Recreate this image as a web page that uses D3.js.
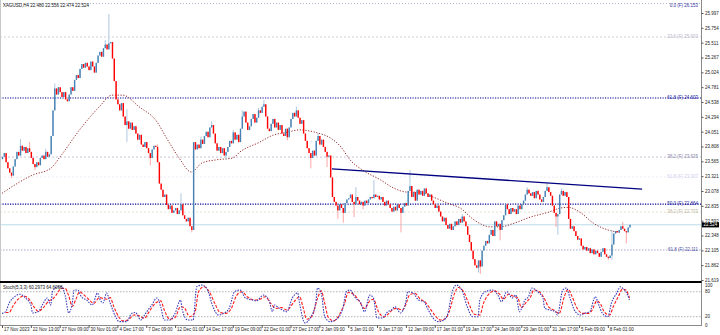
<!DOCTYPE html>
<html><head><meta charset="utf-8">
<script src="https://cdn.jsdelivr.net/npm/d3@7"></script>
<style>
html,body{margin:0;padding:0;background:#fff;}
svg{display:block;font-family:"Liberation Sans",Arial,sans-serif;}
</style></head><body>
<svg id="chart" width="720" height="335"></svg>
<script>
// XAGUSD H4 candles, 17 Nov 2023 .. 9 Feb 2024
const symbol = "XAGUSD,H4";
const firstOpen = 23.60;
const closes = [
23.64,23.70,23.55,23.45,23.38,23.33,23.48,23.60,23.72,23.66,23.82,23.74,23.80,23.70,23.78,23.72,
23.62,23.52,23.47,23.55,23.50,23.62,23.66,23.60,23.72,23.64,23.68,23.98,24.40,24.76,24.66,24.78,
24.70,24.62,24.70,24.58,24.55,24.66,24.78,24.72,24.90,24.98,24.93,25.08,25.16,25.10,25.18,25.12,
25.06,25.20,25.12,25.02,25.18,25.30,25.36,25.28,25.42,25.48,25.40,25.50,25.52,25.25,24.88,24.58,
24.50,24.40,24.52,24.30,24.16,24.22,24.10,24.20,24.08,24.14,24.02,23.92,24.00,23.84,23.80,23.88,
23.78,23.70,23.62,23.76,23.82,23.80,23.55,23.20,23.10,22.98,23.02,22.85,22.78,22.84,22.72,22.76,
22.80,22.70,22.76,22.86,22.68,22.62,22.58,22.64,22.50,22.44,23.88,23.76,23.84,23.78,23.92,23.85,
23.98,24.05,23.96,24.12,24.16,24.02,23.86,23.74,23.80,23.70,23.78,23.66,23.72,23.80,23.90,23.86,
24.04,23.92,24.00,23.88,24.10,24.30,24.38,24.20,24.08,24.14,24.26,24.34,24.20,24.28,24.40,24.36,
24.46,24.50,24.30,24.10,24.06,24.18,24.26,24.12,24.20,24.08,24.16,24.02,23.98,24.10,23.96,24.12,
24.26,24.36,24.30,24.40,24.28,24.18,24.24,24.02,23.90,23.78,23.70,23.62,23.74,23.66,23.90,23.98,
23.84,23.92,23.80,23.72,23.64,23.66,23.30,22.98,22.90,22.84,22.76,22.86,22.80,22.72,22.88,22.94,
22.96,23.02,22.90,22.86,22.98,22.92,22.86,22.90,22.84,22.92,22.88,22.94,22.98,22.96,23.02,22.98,
23.00,22.94,22.98,22.90,22.84,22.92,22.86,22.80,22.74,22.82,22.76,22.86,22.80,22.72,22.82,22.88,
22.84,23.08,23.16,22.98,23.06,22.92,23.10,23.02,23.08,23.00,23.12,23.04,22.98,23.02,22.92,22.86,
22.80,22.84,22.74,22.66,22.58,22.64,22.52,22.46,22.54,22.44,22.50,22.58,22.52,22.62,22.56,22.66,
22.58,22.50,22.36,22.24,22.10,21.96,21.86,21.82,21.94,21.84,22.10,22.18,22.26,22.22,22.36,22.44,
22.34,22.58,22.50,22.54,22.44,22.60,22.68,22.86,22.78,22.70,22.80,22.74,22.78,22.70,22.84,22.78,
22.86,22.92,23.02,23.10,23.04,23.00,23.06,22.96,23.08,23.02,22.94,22.90,22.98,23.08,23.14,23.06,
23.00,22.84,22.72,22.66,22.70,23.02,23.08,23.00,23.06,22.98,22.62,22.46,22.50,22.42,22.34,22.28,
22.30,22.18,22.12,22.16,22.10,22.14,22.06,22.12,22.04,22.10,22.06,22.00,22.08,22.14,22.04,22.00,
21.98,22.02,22.20,22.38,22.42,22.40,22.44,22.50,22.46,22.42,22.40,22.48,22.524
];
// wick extremes that reach beyond the candle bodies: [bar, price]
const highSpikes = [[10,23.93],[15,23.88],[24,23.77],[29,24.84],[57,25.55],[59,25.98],[69,24.42],
  [86,23.84],[99,23.04],[110,23.97],[116,24.22],[128,24.08],[133,24.40],[142,24.44],[145,24.57],
  [163,24.46],[175,24.03],[196,23.14],[206,23.26],[226,23.42],[255,22.70],[291,23.14],[302,23.21],
  [310,23.12],[338,22.44],[344,22.57]];
const lowSpikes = [[5,23.29],[18,23.42],[69,23.88],[82,23.50],[105,22.40],[124,23.59],[158,23.91],
  [171,23.45],[180,23.47],[186,22.62],[189,22.56],[195,22.65],[200,22.78],[221,22.40],[264,21.74],
  [265,21.72],[276,22.27],[307,22.49],[308,22.36],[336,21.95],[338,21.95],[346,22.22]];

// moving average (dotted)
const maIdx = [0,17,27,32,43,54,61,67,76,86,91,98,105,111,119,128,132,143,150,158,165,175,182,188,
  193,200,210,217,225,232,239,247,254,262,271,276,284,293,303,310,314,321,328,336,343];
const maVal = [23.04,23.34,23.45,23.63,24.08,24.46,24.65,24.65,24.46,24.21,23.96,23.63,23.39,23.54,
  23.59,23.62,23.72,23.88,23.99,24.04,24.08,24.03,23.95,23.80,23.59,23.42,23.26,23.13,23.06,23.06,
  22.98,22.88,22.80,22.60,22.49,22.49,22.55,22.65,22.73,22.80,22.81,22.72,22.55,22.44,22.40];

// descending trend line
const trendIdx = [183, 355];
const trendVal = [23.44, 23.11];

// fibonacci levels
const levelNames  = ["0.0","23.6","61.8","38.2","61.8","50.0","38.2","61.8"];
const levelPrices = [26.153,25.603,24.603,23.635,23.307,22.864,22.733,22.111];
const levelLine   = ["#b4b4cc","#d2d2da","#000090","#c8c0d8","#ececf6","#000090","#e4e0d0","#a8a8d0"];
const levelText   = ["#3030a0","#b8b8c8","#2020a0","#8888aa","#d0d0ee","#2828a0","#c0b8a0","#5050a0"];
const levelDash   = ["1,2","2,2","1.2,1.3","2,2","2,2","1.2,1.3","2,2","1.5,1.5"];

const bidPrice = 22.524;
const titleOHLC = [22.480, 22.556, 22.474, 22.524];

const priceTicks = [25.997,25.754,25.511,25.267,25.024,24.781,24.538,24.294,24.051,23.808,
  23.565,23.321,23.078,22.835,22.592,22.348,22.105,21.862,21.619];

const dateIdx = [0,16,32,48,64,80,96,112,128,144,160,176,192,208,224,240,256,272,288,304,320,336];
const dateLabels = ["17 Nov 2023","22 Nov 13:00","27 Nov 09:00","30 Nov 01:00","4 Dec 17:00",
  "7 Dec 09:00","12 Dec 01:00","14 Dec 17:00","19 Dec 09:00","22 Dec 01:00","27 Dec 17:00",
  "2 Jan 09:00","5 Jan 01:00","9 Jan 17:00","12 Jan 09:00","17 Jan 01:00","19 Jan 17:00",
  "24 Jan 09:00","29 Jan 01:00","31 Jan 17:00","5 Feb 09:00","8 Feb 01:00"];

// Stochastic(5,3,3)
const stochIdx = [0,2,4,7,10,13,16,17,20,23,25,27,28,31,33,35,37,39,40,42,44,47,50,53,54,56,58,60,
  63,65,69,72,74,77,79,83,86,88,90,93,96,99,100,103,106,108,111,114,117,120,123,126,129,132,135,
  139,141,145,148,150,151,154,158,161,164,165,168,171,174,175,177,179,182,185,189,191,193,196,199,
  201,204,206,208,211,214,216,218,221,224,225,228,231,234,236,239,242,245,247,250,252,255,258,261,
  264,265,268,272,275,277,280,283,285,287,290,292,294,297,300,301,304,307,308,311,313,315,318,321,
  323,326,329,331,333,336,338,341,343,344,347,348];
const stochMain = [28,32,53,68,74,65,48,29,32,53,65,48,80,92,92,72,29,53,84,84,68,60,48,77,65,53,
  77,53,20,8,8,28,30,12,24,48,65,44,12,12,28,60,36,12,12,92,96,84,44,24,28,40,80,84,65,60,58,72,
  60,32,48,40,32,65,77,53,5,17,53,89,77,20,8,12,40,80,84,65,53,32,72,65,17,17,32,36,44,29,56,80,
  77,60,56,40,17,8,12,24,84,96,84,44,20,20,60,80,84,72,56,80,65,72,32,60,68,89,80,65,40,36,32,24,
  84,89,65,32,24,28,32,68,48,28,20,53,77,92,89,72,60.2973];
const sigIdx = [2,4,6,9,12,15,18,20,23,26,28,30,33,35,37,39,41,43,45,48,51,54,56,58,60,62,65,67,70,
  73,76,79,81,85,88,90,93,96,99,101,104,107,109,112,115,118,121,124,127,130,133,136,140,143,146,
  149,152,155,158,162,165,167,169,172,175,177,179,181,184,187,190,192,195,198,201,204,206,209,212,
  215,217,219,222,224,226,229,232,235,237,240,243,246,248,251,253,256,259,262,265,267,270,273,276,
  278,281,284,286,288,291,293,295,298,301,303,306,309,312,314,316,319,322,325,327,330,332,334,337,
  339,342,344,346,348];
const sigVal = [30,30,45,62,70,62,42,33,42,58,62,72,88,88,70,45,62,80,74,62,52,66,64,62,66,44,18,10,
  12,24,22,16,28,52,58,36,14,18,44,42,20,30,80,92,80,52,30,28,38,70,80,68,60,62,68,52,40,42,36,56,
  68,42,14,22,64,82,52,18,10,24,52,78,74,58,40,58,62,30,20,30,38,40,36,50,72,76,62,54,42,24,12,16,
  32,76,90,80,50,26,24,52,74,82,74,62,74,68,66,42,56,66,84,80,62,44,36,28,70,86,70,40,28,28,34,58,
  50,32,24,44,70,86,84,64.6098];
const stochLevels = [80, 20];
const stochTicks = [100, 80, 20, 0];

// ---------------------------------------------------------------
const svg = d3.select("#chart");
const FS = 4.5;
const x = d3.scaleLinear().domain([0, 388]).range([2, 701.6]);
const y = d3.scaleLinear().domain([21.619, 25.997]).range([280, 13]);
const ys = d3.scaleLinear().domain([0, 100]).range([325, 283.4]);
const AX = 701.5;

const defs = svg.append("defs");
defs.append("clipPath").attr("id", "mainClip").append("rect")
  .attr("x", 0).attr("y", 0).attr("width", AX).attr("height", 281);
defs.append("clipPath").attr("id", "subClip").append("rect")
  .attr("x", 0).attr("y", 283).attr("width", AX).attr("height", 42);

const main = svg.append("g").attr("clip-path", "url(#mainClip)");

// horizontal levels
levelPrices.forEach((p, k) => {
  main.append("line").attr("x1", 0).attr("x2", AX)
    .attr("y1", y(p)).attr("y2", y(p))
    .attr("stroke", levelLine[k]).attr("stroke-width", k === 2 || k === 5 ? 1.2 : 1)
    .attr("stroke-dasharray", levelDash[k]);
});
// bid line
main.append("line").attr("x1", 0).attr("x2", AX)
  .attr("y1", y(bidPrice)).attr("y2", y(bidPrice))
  .attr("stroke", "#b8dce8").attr("stroke-width", 1);

// level labels
levelPrices.forEach((p, k) => {
  svg.append("text").attr("x", 698).attr("y", y(p) + (k === 0 ? 3.5 : 0.8))
    .attr("text-anchor", "end").attr("font-size", FS).attr("fill", levelText[k])
    .text(levelNames[k] + " (F) " + d3.format(".3f")(p));
});

// moving average
main.append("path")
  .datum(maIdx.map((d, k) => [d, maVal[k]]))
  .attr("fill", "none").attr("stroke", "#9a2a2a").attr("stroke-width", 1)
  .attr("stroke-dasharray", "1.2,1.6")
  .attr("d", d3.line().x(d => x(d[0])).y(d => y(d[1])).curve(d3.curveMonotoneX));

// candles
const hiMap = new Map(highSpikes), loMap = new Map(lowSpikes);
const bars = closes.map((c, i) => {
  const o = i === 0 ? firstOpen : closes[i - 1];
  const hi = Math.max(o, c, hiMap.get(i) ?? -Infinity);
  const lo = Math.min(o, c, loMap.get(i) ?? Infinity);
  return { i, o, c, hi, lo, up: c >= o };
});
const cg = main.append("g");
cg.selectAll("line.wick").data(bars).join("line")
  .attr("class", "wick")
  .attr("x1", d => x(d.i) + 0.5).attr("x2", d => x(d.i) + 0.5)
  .attr("y1", d => y(d.hi)).attr("y2", d => y(d.lo))
  .attr("stroke", d => d.up ? "#a6c2dc" : "#ff9c9c").attr("stroke-width", 0.9);
cg.selectAll("rect.body").data(bars).join("rect")
  .attr("class", "body")
  .attr("x", d => x(d.i) - 0.2).attr("width", 1.4)
  .attr("y", d => y(Math.max(d.o, d.c)))
  .attr("height", d => Math.max(0.9, Math.abs(y(d.o) - y(d.c))))
  .attr("fill", d => d.up ? "#4682b4" : "#ff0000");

// trend line
main.append("line")
  .attr("x1", x(trendIdx[0])).attr("y1", y(trendVal[0]))
  .attr("x2", x(trendIdx[1])).attr("y2", y(trendVal[1]))
  .attr("stroke", "#000080").attr("stroke-width", 1.3);

// title
svg.append("text").attr("x", 3).attr("y", 7).attr("font-size", FS).attr("fill", "#111")
  .text(symbol + "  " + titleOHLC.map(d3.format(".3f")).join(" "));

// frame
svg.append("line").attr("x1", 0.5).attr("x2", 0.5).attr("y1", 0).attr("y2", 325)
  .attr("stroke", "#c8c8c8");
svg.append("line").attr("x1", AX).attr("x2", AX).attr("y1", 0).attr("y2", 326)
  .attr("stroke", "#8a8a8a");
svg.append("line").attr("x1", 0).attr("x2", AX).attr("y1", 325.5).attr("y2", 325.5)
  .attr("stroke", "#8a8a8a");
svg.append("rect").attr("x", 0).attr("y", 281).attr("width", AX).attr("height", 2).attr("fill", "#000");

// price axis
const yAxis = svg.append("g").attr("transform", `translate(${AX},0)`)
  .call(d3.axisRight(y).tickValues(priceTicks).tickSize(2).tickPadding(1.5)
    .tickFormat(d3.format(".3f")));
yAxis.select(".domain").remove();
yAxis.selectAll("line").attr("stroke", "#555");
yAxis.selectAll("text").attr("font-size", FS).attr("font-family", null).attr("fill", "#222");

// bid label
svg.append("rect").attr("x", 702).attr("y", y(bidPrice) - 2.6).attr("width", 17).attr("height", 5.2)
  .attr("fill", "#000");
svg.append("text").attr("x", 703.5).attr("y", y(bidPrice) + 1.6).attr("font-size", FS)
  .attr("fill", "#fff").text(d3.format(".3f")(bidPrice));

// time axis
const xAxis = svg.append("g").attr("transform", "translate(0,325.5)")
  .call(d3.axisBottom(x).tickValues(dateIdx).tickSize(2.5)
    .tickFormat((d, k) => dateLabels[k]));
xAxis.select(".domain").remove();
xAxis.selectAll("line").attr("stroke", "#555");
xAxis.selectAll("text").attr("font-size", FS).attr("font-family", null).attr("fill", "#222")
  .attr("text-anchor", "start").attr("x", 1.5).attr("y", 2).attr("dy", "0.75em");

// stochastic sub-window
const sub = svg.append("g").attr("clip-path", "url(#subClip)");
stochLevels.forEach(v => {
  sub.append("line").attr("x1", 0).attr("x2", AX).attr("y1", ys(v)).attr("y2", ys(v))
    .attr("stroke", "#b4b4b4").attr("stroke-dasharray", "1.5,1.5");
});
const sline = d3.line().x(d => x(d[0])).y(d => ys(d[1])).curve(d3.curveMonotoneX);
sub.append("path").datum(sigIdx.map((d, k) => [d, sigVal[k]]))
  .attr("fill", "none").attr("stroke", "#ff1a1a").attr("stroke-width", 1.1)
  .attr("stroke-dasharray", "3,1.5").attr("d", sline);
sub.append("path").datum(stochIdx.map((d, k) => [d, stochMain[k]]))
  .attr("fill", "none").attr("stroke", "#3a3ab8").attr("stroke-width", 1.1)
  .attr("stroke-dasharray", "1.5,1.2").attr("d", sline);
svg.append("text").attr("x", 3).attr("y", 289).attr("font-size", FS).attr("fill", "#111")
  .text("Stoch(5,3,3) " + d3.format(".4f")(stochMain[stochMain.length - 1]) + " " +
        d3.format(".4f")(sigVal[sigVal.length - 1]));
// sub-window scale labels; the top one sits just under the separator bar
const stochLabelY = v => v === 100 ? 287.4 : ys(v) + 1.6;
stochTicks.forEach(v => {
  svg.append("text").attr("x", 705).attr("y", stochLabelY(v)).attr("font-size", FS)
    .attr("fill", "#222").text(v);
});
</script>
</body></html>
